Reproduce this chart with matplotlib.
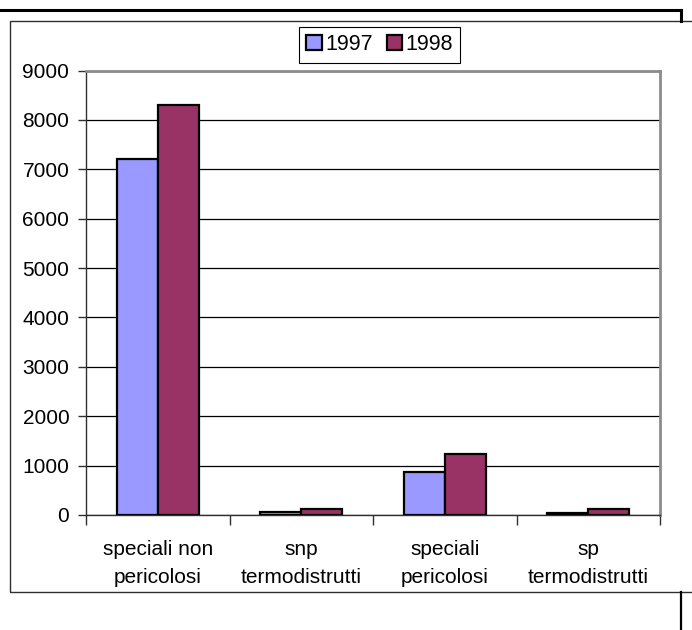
import numpy as np
import matplotlib
matplotlib.use("Agg")
import matplotlib.pyplot as plt
from matplotlib.lines import Line2D
from matplotlib.patches import Rectangle

# dati
categorie = ["speciali non\npericolosi", "snp\ntermodistrutti",
             "speciali\npericolosi", "sp\ntermodistrutti"]
valori_1997 = [7200, 60, 880, 50]
valori_1998 = [8300, 130, 1230, 120]
anni = ["1997", "1998"]
y_ticks = list(range(0, 9001, 1000))

plt.rcParams['font.family'] = ['Liberation Sans', 'DejaVu Sans']

W, H = 692, 630
fig = plt.figure(figsize=(W / 100, H / 100), dpi=100)

def fx(px):
    return px / W

def fy(py):
    return 1 - py / H

# cornice esterna (residuo del documento)
fig.add_artist(Line2D([0, fx(681)], [fy(10), fy(10)], color='black', lw=2.2))
fig.add_artist(Line2D([fx(681), fx(681)], [fy(10), fy(21)], color='black', lw=2.2))
fig.add_artist(Line2D([fx(681), fx(681)], [fy(592), 0], color='black', lw=1.6))
fig.add_artist(Rectangle((fx(10), fy(592)), fx(700), fy(21) - fy(592),
                         transform=fig.transFigure, fill=False,
                         edgecolor='#303030', lw=1.0))

ax = fig.add_axes([fx(86), fy(515), fx(660) - fx(86), fy(70.5) - fy(515)])

x = np.arange(len(categorie))
w = 0.286
ax.bar(x - w / 2, valori_1997, width=w, color='#9999FF', edgecolor='black',
       linewidth=1.6, label=anni[0], zorder=3)
ax.bar(x + w / 2, valori_1998, width=w, color='#993366', edgecolor='black',
       linewidth=1.6, label=anni[1], zorder=3)

ax.set_xlim(-0.5, len(categorie) - 0.5)
ax.set_ylim(0, 9000)
ax.set_yticks(y_ticks)
ax.set_yticklabels([str(v) for v in y_ticks], fontsize=15)
ax.tick_params(axis='y', direction='out', length=6, width=1, pad=6, color='#303030')

ax.set_xticks(x)
ax.set_xticklabels(categorie, fontsize=15, linespacing=1.58)
ax.tick_params(axis='x', which='major', length=0, pad=18)
ax.set_xticks(np.arange(-0.5, len(categorie), 1.0), minor=True)
ax.tick_params(axis='x', which='minor', direction='out', length=7, width=1, color='#303030')

ax.yaxis.grid(True, color='black', lw=0.9, zorder=0)
ax.set_axisbelow(True)

for s in ['top', 'right']:
    ax.spines[s].set_color('#8c8c8c')
    ax.spines[s].set_linewidth(2)
for s in ['left', 'bottom']:
    ax.spines[s].set_color('#303030')
    ax.spines[s].set_linewidth(1)

leg = fig.legend(loc='upper center', bbox_to_anchor=(fx(379.5), fy(27)),
                 ncol=2, fontsize=15.5, frameon=True, fancybox=False,
                 edgecolor='black', framealpha=1, borderpad=0.34,
                 handlelength=0.72, handleheight=0.72, handletextpad=0.15,
                 columnspacing=0.65, borderaxespad=0)
leg.get_frame().set_linewidth(0.8)

fig.savefig("out.png", dpi=100)
